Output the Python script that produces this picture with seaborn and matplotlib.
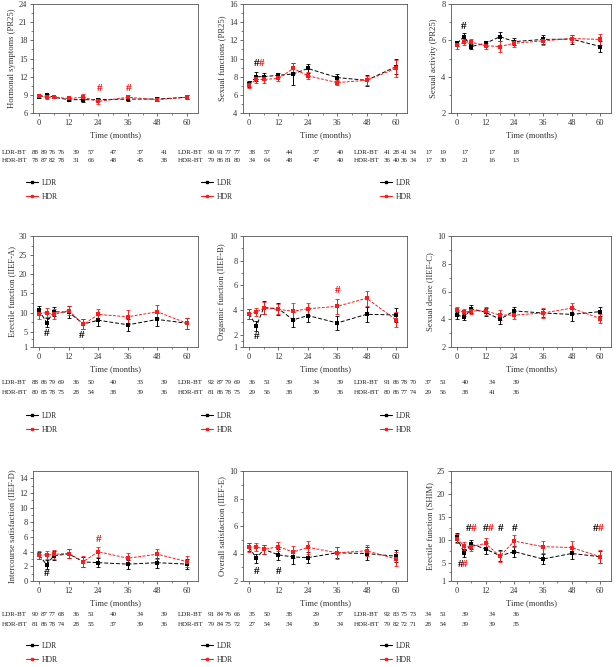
import numpy as np
import pandas as pd
import matplotlib
matplotlib.use("Agg")
import matplotlib.pyplot as plt
import seaborn as sns
from matplotlib.lines import Line2D

sns.set_theme(style="white")
plt.rcParams['font.family'] = ['Liberation Serif', 'DejaVu Serif']

months = [0, 3, 6, 12, 18, 24, 36, 48, 60]

ylabels = ["Hormonal symptoms (PR25)", "Sexual functions (PR25)", "Sexual activity (PR25)",
           "Erectile function (IIEF-A)", "Orgasmic function (IIEF-B)", "Sexual desire (IIEF-C)",
           "Intercourse satisfaction (IIEF-D)", "Overall satisfaction (IIEF-E)", "Erectile function (SHIM)"]

yticks = [[6, 9, 12, 15, 18, 21, 24], [4, 6, 8, 10, 12, 14, 16], [2, 4, 6, 8],
          [1, 5, 10, 15, 20, 25, 30], [1, 2, 4, 6, 8, 10], [2, 4, 6, 8, 10],
          [0, 2, 4, 6, 8, 10, 12, 14], [2, 4, 6, 8, 10], [1, 5, 10, 15, 20, 25]]
ylims = [(6, 24), (4, 16), (2, 8), (1, 30), (1, 10), (2, 10), (0, 15), (2, 10), (1, 25)]

ldr_mean = [
    [8.7, 8.9, 8.6, 8.2, 8.2, 8.2, 8.3, 8.3, 8.6],
    [7.2, 8.0, 8.0, 8.15, 8.3, 8.9, 7.9, 7.6, 9.1],
    [5.84, 6.2, 5.66, 5.84, 6.2, 5.93, 6.05, 6.07, 5.66],
    [10.6, 7.4, 10.2, 10.1, 7.0, 8.0, 6.8, 8.2, 7.2],
    [3.7, 2.7, 4.2, 4.1, 3.2, 3.55, 2.95, 3.65, 3.6],
    [4.3, 4.15, 4.75, 4.5, 4.0, 4.6, 4.45, 4.35, 4.55],
    [3.5, 2.25, 3.45, 3.7, 2.6, 2.5, 2.3, 2.5, 2.3],
    [4.45, 3.65, 4.3, 3.9, 3.75, 3.7, 4.05, 4.0, 3.8],
    [10.5, 7.1, 9.0, 8.0, 6.5, 7.4, 5.8, 7.0, 6.3],
]
hdr_mean = [
    [8.8, 8.6, 8.6, 8.4, 8.6, 7.9, 8.6, 8.2, 8.6],
    [7.1, 7.7, 7.7, 7.8, 8.9, 8.1, 7.35, 7.6, 8.9],
    [5.75, 5.9, 5.9, 5.7, 5.66, 5.84, 5.97, 6.1, 6.05],
    [9.7, 10.0, 9.5, 10.5, 6.9, 9.5, 8.9, 10.2, 7.2],
    [3.65, 3.85, 4.15, 4.05, 3.9, 4.1, 4.3, 4.95, 3.2],
    [4.65, 4.5, 4.6, 4.6, 4.3, 4.3, 4.45, 4.8, 4.05],
    [3.55, 3.55, 3.65, 3.75, 2.65, 4.0, 3.1, 3.65, 2.65],
    [4.45, 4.5, 4.3, 4.5, 4.1, 4.45, 4.05, 4.2, 3.6],
    [10.2, 8.7, 8.5, 9.2, 6.4, 9.7, 8.5, 8.3, 6.3],
]
ldr_err = [
    [0.3, 0.3, 0.2, 0.3, 0.4, 0.3, 0.3, 0.3, 0.3],
    [0.3, 0.5, 0.4, 0.2, 1.2, 0.5, 0.4, 0.6, 0.8],
    [0.15, 0.2, 0.15, 0.15, 0.25, 0.2, 0.25, 0.25, 0.3],
    [1.2, 1.2, 1.2, 1.5, 1.3, 1.5, 1.5, 1.7, 1.5],
    [0.4, 0.4, 0.5, 0.5, 0.6, 0.5, 0.6, 0.6, 0.6],
    [0.25, 0.2, 0.3, 0.3, 0.35, 0.3, 0.3, 0.45, 0.35],
    [0.5, 0.6, 0.6, 0.6, 0.7, 0.6, 0.6, 0.7, 0.7],
    [0.3, 0.35, 0.35, 0.4, 0.5, 0.4, 0.4, 0.5, 0.45],
    [1.0, 0.9, 1.0, 1.2, 1.2, 1.2, 1.0, 1.2, 1.3],
]
hdr_err = [
    [0.3, 0.3, 0.2, 0.3, 0.5, 0.4, 0.4, 0.3, 0.3],
    [0.3, 0.4, 0.4, 0.3, 0.6, 0.4, 0.3, 0.5, 0.9],
    [0.2, 0.15, 0.2, 0.15, 0.3, 0.2, 0.2, 0.2, 0.3],
    [1.3, 1.2, 1.3, 1.2, 1.3, 1.5, 1.7, 1.7, 1.5],
    [0.4, 0.3, 0.5, 0.4, 0.7, 0.5, 0.6, 0.6, 0.6],
    [0.25, 0.25, 0.25, 0.3, 0.35, 0.3, 0.35, 0.35, 0.35],
    [0.5, 0.6, 0.6, 0.6, 0.7, 0.7, 0.7, 0.7, 0.7],
    [0.35, 0.3, 0.3, 0.35, 0.45, 0.45, 0.45, 0.4, 0.5],
    [1.0, 0.9, 1.0, 1.2, 1.2, 1.3, 1.3, 1.5, 1.4],
]

ldr_n = [
    [88, 89, 76, 76, 39, 57, 47, 37, 41],
    [90, 91, 77, 77, 38, 57, 44, 37, 40],
    [41, 28, 41, 34, 17, 19, 17, 17, 18],
    [88, 86, 79, 69, 36, 50, 40, 33, 39],
    [92, 87, 79, 69, 36, 51, 39, 34, 39],
    [91, 86, 78, 70, 37, 51, 40, 34, 39],
    [90, 87, 77, 68, 36, 51, 40, 34, 39],
    [91, 84, 76, 66, 35, 50, 38, 29, 37],
    [92, 83, 75, 73, 34, 51, 39, 34, 36],
]
hdr_n = [
    [78, 87, 82, 78, 31, 66, 48, 45, 38],
    [79, 86, 81, 80, 34, 64, 48, 47, 40],
    [36, 40, 36, 34, 17, 30, 21, 16, 13],
    [80, 85, 78, 75, 28, 54, 38, 39, 36],
    [81, 86, 78, 75, 29, 56, 38, 39, 36],
    [80, 86, 77, 74, 29, 56, 38, 41, 36],
    [81, 86, 78, 74, 28, 55, 37, 39, 36],
    [79, 84, 75, 72, 27, 54, 34, 39, 34],
    [79, 82, 72, 71, 28, 54, 39, 39, 35],
]

# significance marks: (panel, x, y, color)
sig_marks = [
    (0, 24.5, 10.0, 'red'), (0, 36.5, 10.0, 'red'),
    (1, 3.0, 9.5, 'black'), (1, 5.0, 9.5, 'red'),
    (2, 3.0, 6.75, 'black'),
    (3, 3.0, 4.4, 'black'), (3, 17.3, 4.0, 'black'),
    (4, 3.0, 1.85, 'black'), (4, 36.0, 5.55, 'red'),
    (6, 3.0, 1.0, 'black'), (6, 24.0, 5.6, 'red'),
    (7, 3.0, 2.7, 'black'), (7, 12.0, 2.7, 'black'),
    (8, 1.4, 4.5, 'black'), (8, 3.4, 4.5, 'red'),
    (8, 4.9, 12.5, 'black'), (8, 6.9, 12.5, 'red'),
    (8, 12.0, 12.5, 'black'), (8, 14.0, 12.5, 'red'),
    (8, 18.4, 12.5, 'black'), (8, 24.1, 12.5, 'black'),
    (8, 58.2, 12.5, 'black'), (8, 60.2, 12.5, 'red'),
]

W, H = 616, 667
fig = plt.figure(figsize=(W / 100, H / 100), dpi=100)

col_left = [33, 243, 451]
col_right = [198, 407, 611]
row_top = [4, 236, 471]
row_bot = [113, 347, 581]
table_y = [(152, 161), (383, 393), (615, 624)]
legend_y = [183, 416, 646]
table_label_right = [27, 203, 379]
table_offsets = [5.5, 14, 22.5, 31, 46.5, 61, 83, 110, 134]
legend_x = [26, 201, 380]

palette = {"LDR": "black", "HDR": "#ff1a1a"}
gray = "#555555"

for i in range(9):
    r, c = divmod(i, 3)
    ax = fig.add_axes([col_left[c] / W, 1 - row_bot[r] / H,
                       (col_right[c] - col_left[c]) / W, (row_bot[r] - row_top[r]) / H])
    df = pd.DataFrame({
        "Time": months * 2,
        "value": ldr_mean[i] + hdr_mean[i],
        "err": ldr_err[i] + hdr_err[i],
        "group": ["LDR"] * 9 + ["HDR"] * 9,
    })
    for g in ["LDR", "HDR"]:
        sub = df[df.group == g]
        ax.errorbar(sub.Time, sub.value, yerr=sub.err, fmt='none', ecolor=palette[g],
                    elinewidth=0.7, capsize=1.5, capthick=0.6, zorder=2)
    sns.lineplot(data=df, x="Time", y="value", hue="group", style="group",
                 palette=palette, dashes={"LDR": (4, 2), "HDR": (3, 1.5)},
                 markers={"LDR": "s", "HDR": "s"}, markersize=2.8, markeredgewidth=0,
                 linewidth=0.7, ax=ax, legend=False, zorder=3)
    ax.set_xlim(-2.5, 64.5)
    ax.set_ylim(*ylims[i])
    ax.set_xticks([0, 12, 24, 36, 48, 60])
    ax.set_xticks([6, 18, 30, 42, 54], minor=True)
    ax.set_yticks(yticks[i])
    yt = yticks[i]
    minors = []
    for a, b in zip(yt[:-1], yt[1:]):
        minors.append((a + b) / 2)
    ax.set_yticks(minors, minor=True)
    ax.tick_params(axis='both', which='major', direction='out', length=2.5, width=0.6,
                   labelsize=6, colors=gray, pad=1.5, labelcolor='#333333')
    ax.tick_params(axis='both', which='minor', direction='out', length=1.5, width=0.5,
                   colors=gray)
    ax.tick_params(bottom=True, left=True, which='both')
    for s in ax.spines.values():
        s.set_color(gray)
        s.set_linewidth(0.6)
    ax.set_xlabel("Time (months)", fontsize=6.2, color='#333333', labelpad=3)
    ax.set_ylabel(ylabels[i], fontsize=6.2, color='#333333', labelpad=2)
    for (p, x, y, col) in sig_marks:
        if p == i:
            ax.text(x, y, "#", color=col, fontsize=8, ha='center', va='center',
                    fontweight='bold')

    # sample size tables
    ty1, ty2 = table_y[r]
    lx = table_label_right[c]
    fig.text(lx / W, 1 - ty1 / H, "LDR-BT", fontsize=5, ha='right', va='center', color='#222222')
    fig.text(lx / W, 1 - ty2 / H, "HDR-BT", fontsize=5, ha='right', va='center', color='#222222')
    for k in range(9):
        xx = (lx + table_offsets[k] + 3) / W
        fig.text(xx, 1 - ty1 / H, str(ldr_n[i][k]), fontsize=5, ha='center', va='center', color='#222222')
        fig.text(xx, 1 - ty2 / H, str(hdr_n[i][k]), fontsize=5, ha='center', va='center', color='#222222')

    handles = [Line2D([0], [0], color='black', lw=0.8, marker='s', markersize=1.6),
               Line2D([0], [0], color='#ff1a1a', lw=0.8, marker='s', markersize=1.6)]
    fig.legend(handles, ["LDR", "HDR"], loc='center left',
               bbox_to_anchor=(legend_x[c] / W, 1 - (legend_y[r] + 7) / H),
               frameon=False, fontsize=5.5, handlelength=1.6, handletextpad=0.5,
               labelspacing=0.75, borderpad=0, borderaxespad=0)

fig.savefig("out.png", dpi=100)
